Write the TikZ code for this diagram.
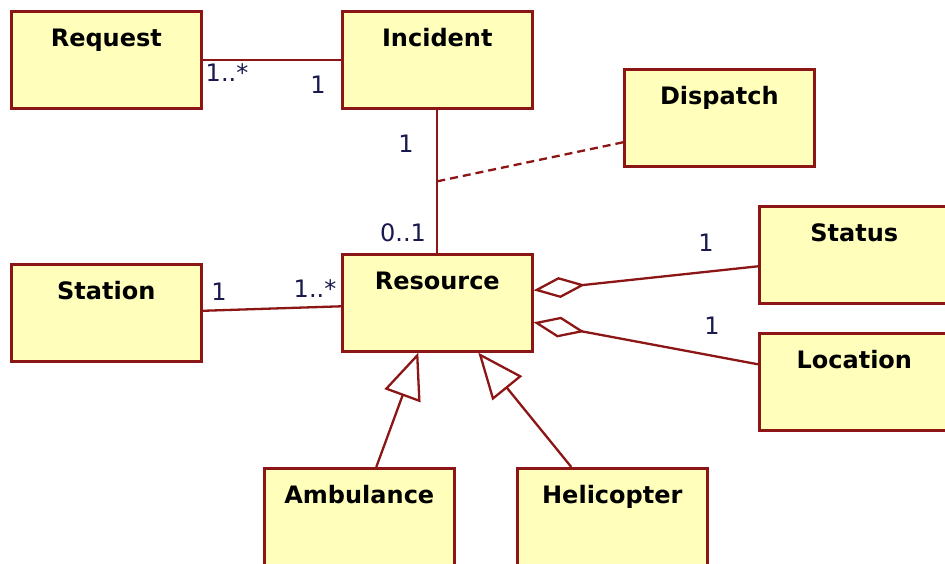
\documentclass[tikz,border=0pt]{standalone}
\usepackage{fontspec}
\usetikzlibrary{arrows.meta,calc}
\newfontfamily\umlfont{DejaVu Sans}

\definecolor{umlline}{RGB}{140,22,22}
\definecolor{umlfill}{RGB}{255,255,187}
\definecolor{umllabel}{RGB}{25,25,80}

\tikzset{
  classbox/.style={draw=umlline, fill=umlfill, line width=2.6pt,
    minimum width=190pt, inner xsep=0pt, inner ysep=0pt,
    text height=35pt, text depth=62pt, anchor=north west,
    font=\umlfont\bfseries\fontsize{24}{28}\selectfont, text=black},
  assoc/.style={draw=umlline, line width=2.3pt},
  aggr/.style={assoc, -{Diamond[open, length=52pt, width=21pt]}},
  gener/.style={assoc, -{Triangle[open, length=46pt, width=38pt]}},
  assocclass/.style={assoc, dash pattern=on 8pt off 5pt},
  mult/.style={font=\umlfont\fontsize{24}{28}\selectfont, text=umllabel,
    inner sep=0pt}
}

\begin{document}
\begin{tikzpicture}[x=1pt, y=-1pt]
  \useasboundingbox (0,0) rectangle (945,563);
  \fill[white] (0,0) rectangle (945,563);

  % classes
  \node[classbox] (req) at (10,10)   {Request};
  \node[classbox] (inc) at (341,10)  {Incident};
  \node[classbox] (dis) at (623,68)  {Dispatch};
  \node[classbox] (sta) at (10,263)  {Station};
  \node[classbox] (res) at (341,253) {Resource};
  \node[classbox] (sts) at (758,205) {Status};
  \node[classbox] (loc) at (758,332) {Location};
  \node[classbox] (amb) at (263,467) {Ambulance};
  \node[classbox] (hel) at (516,467) {Helicopter};

  % associations
  \draw[assoc] (req.east) -- (inc.west);
  \draw[assoc] (inc.south) -- (res.north);
  \draw[assoc] ([yshift=2pt]sta.east) -- ([yshift=-3.5pt]res.west);

  % association class link
  \coordinate (ir) at ($(inc.south)!0.5!(res.north)$);
  \draw[assocclass] (ir) -- ([yshift=-24.5pt]dis.west);

  % aggregations
  \draw[aggr] ([yshift=-11.5pt]sts.west) -- ([yshift=12.5pt]res.east);
  \draw[aggr] ([yshift=17.5pt]loc.west) -- ([yshift=-19.5pt]res.east);

  % generalizations
  \draw[gener] ([xshift=17pt]amb.north) -- ([xshift=-19pt]res.south);
  \draw[gener] ([xshift=-41pt]hel.north) -- ([xshift=41pt]res.south);

  % multiplicities
  \node[mult] (m1) at (227,73)  {1..*};
  \node[mult] (m2) at (318,85)  {1};
  \node[mult] (m3) at (406,144) {1};
  \node[mult] (m4) at (403,233) {0..1};
  \node[mult] (m5) at (219,292) {1};
  \node[mult] (m6) at (315,289) {1..*};
  \node[mult] (m7) at (706,243) {1};
  \node[mult] (m8) at (712,326) {1};
\end{tikzpicture}
\end{document}
